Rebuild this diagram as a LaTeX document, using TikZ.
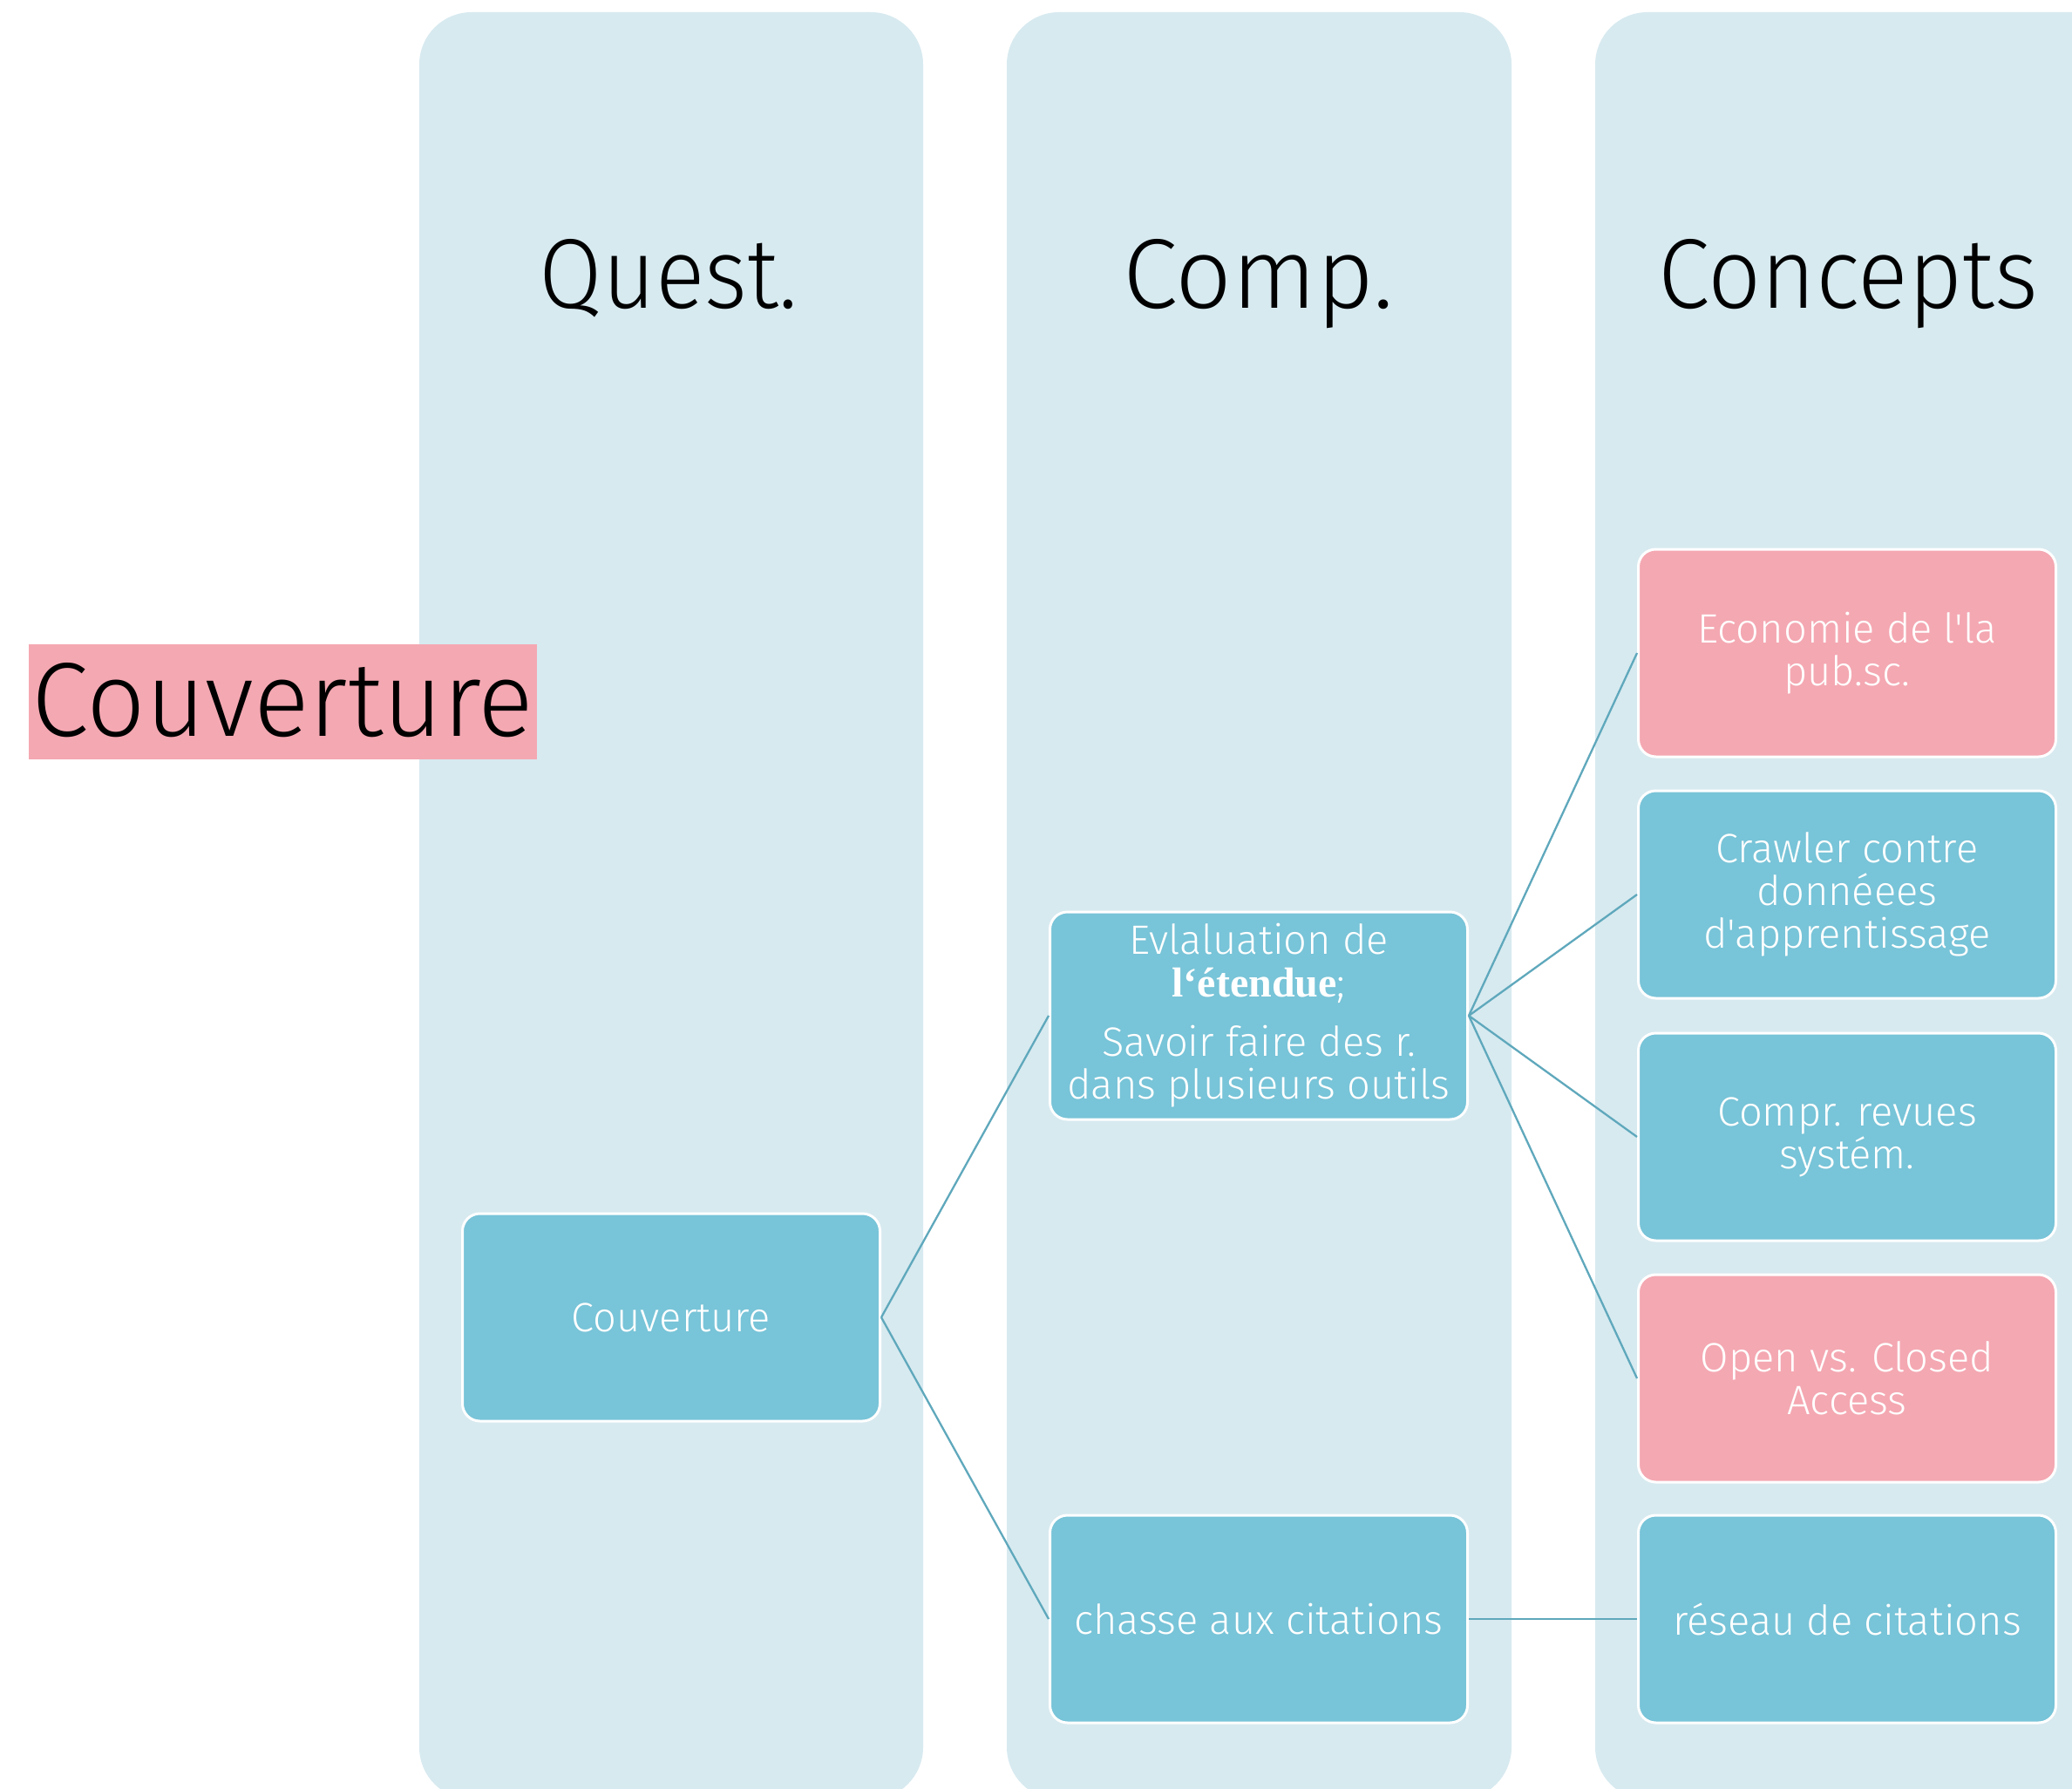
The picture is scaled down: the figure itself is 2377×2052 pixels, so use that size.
\documentclass[tikz,border=0pt]{standalone}
\usepackage{fontspec}
\usepackage{graphicx}
\newfontfamily\bodyfont{Fira Sans Light}
\newfontfamily\serifb{Liberation Serif}
\definecolor{colbg}{HTML}{D7EAF0}
\definecolor{boxblue}{HTML}{78C4D8}
\definecolor{boxpink}{HTML}{F4A8B2}
\definecolor{linkc}{HTML}{5FA8BC}
\begin{document}
\begin{tikzpicture}[x=1pt,y=-1pt,
  lane/.style={fill=colbg, rounded corners=60pt},
  card/.style={draw=white, line width=3pt, rounded corners=20pt, minimum width=479pt, minimum height=238pt, align=center, text=white, font=\bodyfont\fontsize{47}{49}\selectfont, inner sep=0pt},
  bluecard/.style={card, fill=boxblue},
  pinkcard/.style={card, fill=boxpink},
  link/.style={draw=linkc, line width=2.3pt},
  header/.style={anchor=base, text=black, inner sep=0pt, font=\bodyfont}]
\clip (0,0) rectangle (2377,2052);
\fill[white] (0,0) rectangle (2377,2052);
\fill[lane] (481,14) rectangle (1059,2064);
\fill[lane] (1155,14) rectangle (1734,2064);
\fill[lane] (1830,14) rectangle (2440,2064);
% headers
\node[header] (hq) at (767,353) {\resizebox{296pt}{79pt}{Quest.}};
\node[header] (hc) at (1444,353) {\resizebox{311pt}{79pt}{Comp.}};
\node[header] (hk) at (2120,353) {\resizebox{435pt}{79pt}{Concepts}};
\fill[boxpink] (33,739) rectangle (616,871);
\node[header, anchor=base west] (title) at (36.5,844) {\resizebox{575pt}{84pt}{Couverture}};
% cards
\node[bluecard] (cov) at (770,1511) {Couverture};
\node[bluecard] (eval) at (1444,1165) {Evlaluation de\\{\serifb\bfseries\fontsize{48}{49}\selectfont l‘étendue};\\[19pt]Savoir faire des r.\\dans plusieurs outils};
\node[bluecard] (chasse) at (1444,1857) {chasse aux citations};
\node[pinkcard] (eco) at (2119,749) {Economie de l'la\\pub.sc.};
\node[bluecard] (crawl) at (2119,1026) {Crawler contre\\donnéees\\d'apprentissage};
\node[bluecard] (compr) at (2119,1304) {Compr. revues\\systém.};
\node[pinkcard] (open) at (2119,1581) {Open vs. Closed\\Access};
\node[bluecard] (reseau) at (2119,1857) {réseau de citations};
% links
\draw[link] (cov.east) -- (eval.west);
\draw[link] (cov.east) -- (chasse.west);
\foreach \n in {eco,crawl,compr,open} \draw[link] (eval.east) -- (\n.west);
\draw[link] (chasse.east) -- (reseau.west);
\end{tikzpicture}
\end{document}
